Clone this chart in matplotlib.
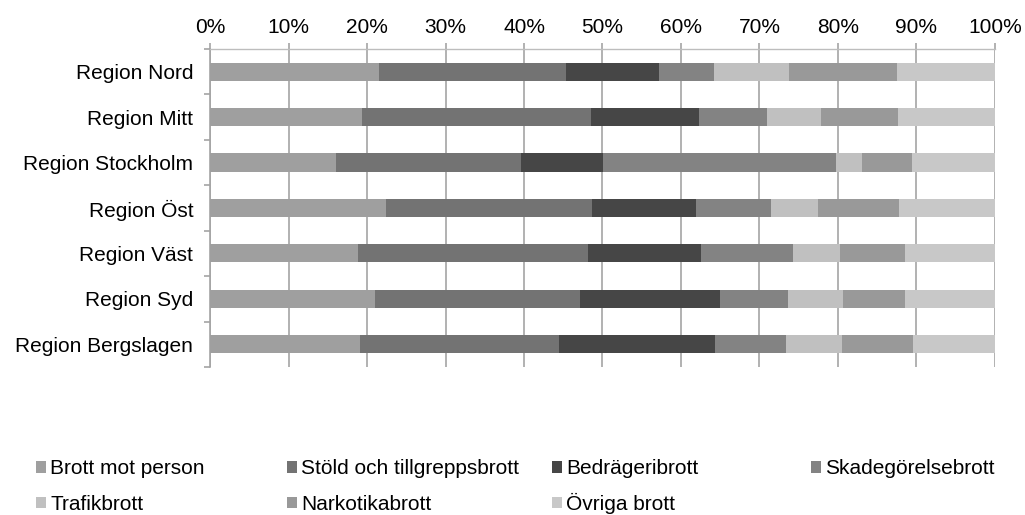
import matplotlib
matplotlib.use("Agg")
import matplotlib.pyplot as plt
from matplotlib.patches import Patch
from matplotlib.ticker import PercentFormatter
import numpy as np

plt.rcParams['font.family'] = ['Liberation Sans', 'DejaVu Sans']

regions = ["Region Nord", "Region Mitt", "Region Stockholm", "Region Öst",
           "Region Väst", "Region Syd", "Region Bergslagen"]
categories = ["Brott mot person", "Stöld och tillgreppsbrott", "Bedrägeribrott",
              "Skadegörelsebrott", "Trafikbrott", "Narkotikabrott", "Övriga brott"]

# share (%) per region, one list per crime category
brott_mot_person = [21.5, 19.4, 16.1, 22.4, 18.8, 21.0, 19.1]
stold = [23.9, 29.1, 23.5, 26.3, 29.4, 26.1, 25.3]
bedrageri = [11.8, 13.8, 10.5, 13.2, 14.3, 17.9, 19.9]
skadegorelse = [7.0, 8.7, 29.6, 9.6, 11.8, 8.6, 9.1]
trafik = [9.6, 6.9, 3.4, 5.9, 5.9, 7.1, 7.1]
narkotika = [13.7, 9.7, 6.3, 10.4, 8.3, 7.9, 9.0]
ovriga = [12.5, 12.4, 10.6, 12.2, 11.5, 11.4, 10.5]

series = [brott_mot_person, stold, bedrageri, skadegorelse, trafik, narkotika, ovriga]
colors = ["#9f9f9f", "#737373", "#464646", "#838383", "#c0c0c0", "#999999", "#c8c8c8"]

FS = 15
grid_col = '#a4a4a4'

fig = plt.figure(figsize=(10.25, 5.15), dpi=100)
ax = fig.add_axes([0.2049, 0.2874, 0.7658, 0.6175])

y = np.arange(len(regions))
left = np.zeros(len(regions))
for vals, col in zip(series, colors):
    v = np.array(vals)
    ax.barh(y, v, left=left, height=0.4, color=col, zorder=3)
    left += v

ax.set_xlim(0, 100)
ax.set_ylim(len(regions) - 0.5, -0.5)
ax.set_xticks(np.arange(0, 101, 10))
ax.xaxis.set_major_formatter(PercentFormatter(decimals=0))
ax.xaxis.tick_top()
ax.tick_params(axis='x', length=4.5, width=1.2, color=grid_col,
               labelsize=FS, pad=4, labelcolor='black')
ax.grid(axis='x', color=grid_col, linewidth=1.2, zorder=0)

ax.set_yticks(y)
ax.set_yticklabels(regions)
ax.tick_params(axis='y', length=0, labelsize=FS, pad=12)
ax.set_yticks(np.arange(-0.5, len(regions)), minor=True)
ax.tick_params(axis='y', which='minor', length=4.5, color=grid_col, width=1.2)

for s in ['right', 'bottom']:
    ax.spines[s].set_visible(False)
ax.spines['top'].set_color('#bdbdbd')
ax.spines['top'].set_linewidth(1.0)
ax.spines['left'].set_color(grid_col)
ax.spines['left'].set_linewidth(1.2)

# legend: 4 columns, 2 rows, Excel-style fixed column positions
# (lower-left anchoring keeps baselines aligned, even with "Ö")
handles = [Patch(facecolor=c, edgecolor='none') for c in colors]
col_x = [36 / 1025, 287 / 1025, 552 / 1025, 811 / 1025]
row_y = [1 - 478.5 / 515, 1 - 514 / 515]
for j, name in enumerate(categories):
    fig.legend([handles[j]], [name], loc='lower left',
               bbox_to_anchor=(col_x[j % 4], row_y[j // 4]), frameon=False,
               fontsize=FS, handlelength=0.48, handleheight=0.45, handletextpad=0.2,
               borderaxespad=0, borderpad=0)

fig.savefig("out.png", dpi=100)
